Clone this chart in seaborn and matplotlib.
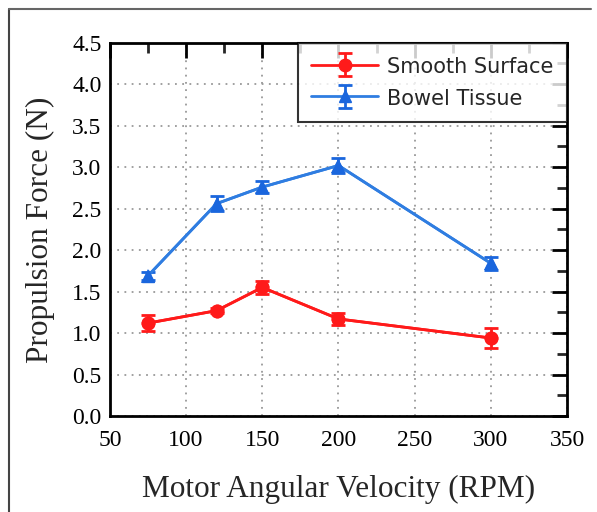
import numpy as np
import pandas as pd
import matplotlib
matplotlib.use("Agg")
import matplotlib.pyplot as plt
import seaborn as sns
from matplotlib.ticker import MultipleLocator, FormatStrFormatter
from matplotlib.lines import Line2D
from matplotlib.legend_handler import HandlerErrorbar

# ---- data ----
rpm = [75, 120, 150, 200, 300]
smooth_force = [1.12, 1.27, 1.55, 1.17, 0.94]
smooth_err = [0.10, 0.03, 0.08, 0.07, 0.12]
bowel_force = [1.69, 2.56, 2.76, 3.02, 1.84]
bowel_err = [0.05, 0.09, 0.07, 0.09, 0.08]
series_names = ["Smooth Surface", "Bowel Tissue"]
x_label = "Motor Angular Velocity (RPM)"
y_label = "Propulsion Force (N)"

red = "#ff1a1a"
blue = "#2f7de1"
blue_m = "#1a66dd"

sns.set_style("white")
plt.rcParams["font.family"] = ["Liberation Serif", "DejaVu Serif"]

df = pd.DataFrame({
    "rpm": rpm * 2,
    "force": smooth_force + bowel_force,
    "series": [series_names[0]] * len(rpm) + [series_names[1]] * len(rpm),
})

fig = plt.figure(figsize=(5.97, 5.12), dpi=100)
ax = fig.add_axes([0.184, 0.1875, 0.766, 0.729])

sns.lineplot(data=df, x="rpm", y="force", hue="series", style="series",
             markers={series_names[0]: "o", series_names[1]: "^"}, dashes=False,
             palette={series_names[0]: red, series_names[1]: blue},
             linewidth=2, markersize=10, markeredgewidth=0, legend=False, ax=ax, zorder=3)
for ln in ax.lines:
    if ln.get_marker() == "^":
        ln.set_markerfacecolor(blue_m)

# error bars (same line/marker styling so the legend glyph is complete)
eb1 = ax.errorbar(rpm, smooth_force, yerr=smooth_err, fmt="-o", color=red, lw=2, ms=9,
                  mfc=red, mec=red, ecolor=red, elinewidth=2, capsize=5, capthick=2, zorder=3)
eb2 = ax.errorbar(rpm, bowel_force, yerr=bowel_err, fmt="-^", color=blue, mfc=blue_m, mec=blue_m,
                  lw=2, ms=9, ecolor=blue_m, elinewidth=2, capsize=5, capthick=2, zorder=3)

hm = {eb1: HandlerErrorbar(yerr_size=0.55), eb2: HandlerErrorbar(yerr_size=0.55)}
leg = ax.legend(handles=[eb1, eb2], labels=series_names, handler_map=hm,
                loc="upper right", borderaxespad=0, numpoints=1,
                fancybox=False, frameon=True, handlelength=3.2, handletextpad=0.45,
                labelspacing=0.55, borderpad=0.65, handleheight=1.0,
                prop={"family": "DejaVu Sans", "size": 15})
leg.get_frame().set_edgecolor("black")
leg.get_frame().set_linewidth(1.5)
leg.set_zorder(5)

ax.set_xlim(50, 350)
ax.set_ylim(0, 4.5)
ax.xaxis.set_major_locator(MultipleLocator(50))
ax.xaxis.set_minor_locator(MultipleLocator(25))
ax.yaxis.set_major_locator(MultipleLocator(0.5))
ax.yaxis.set_minor_locator(MultipleLocator(0.25))
ax.yaxis.set_major_formatter(FormatStrFormatter("%.1f"))
ax.xaxis.set_major_formatter(FormatStrFormatter("%d"))

ax.grid(True, which="major", linestyle=(0, (1, 3)), color="#999999", linewidth=1.3)
ax.set_axisbelow(True)

for s in ax.spines.values():
    s.set_linewidth(2)
    s.set_color("black")

ax.tick_params(which="major", direction="in", length=11, width=2, labelsize=17,
               top=True, right=True, colors="black")
ax.tick_params(axis="x", which="major", pad=10)
ax.tick_params(axis="y", which="major", pad=6)
ax.tick_params(which="minor", direction="in", length=7, width=2, top=True, right=True)

ax.set_xlabel(x_label, fontsize=22.5, labelpad=17)
ax.set_ylabel(y_label, fontsize=22.5, labelpad=12)

# figure frame (top and left edges)
fig.add_artist(Line2D([0.015, 0.015], [0.0, 0.982], transform=fig.transFigure, color="#444444", lw=1.5))
fig.add_artist(Line2D([0.015, 0.99], [0.982, 0.982], transform=fig.transFigure, color="#666666", lw=1.5))

fig.savefig("out.png", dpi=100)
